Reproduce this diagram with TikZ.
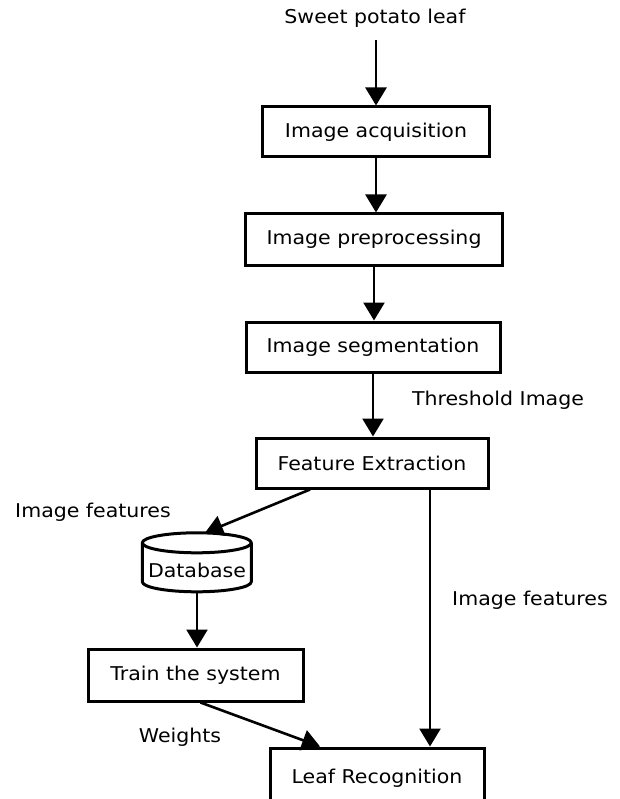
\documentclass[tikz,border=0pt]{standalone}
\usepackage{fontspec}
\setmainfont[FakeStretch=1.08]{DejaVu Sans}
\usetikzlibrary{arrows.meta}
\begin{document}
\begin{tikzpicture}[x=1pt,y=-1pt,
  box/.style={draw,line width=3pt,rectangle,inner sep=0pt,font=\fontsize{19}{21}\selectfont},
  lbl/.style={inner sep=0pt,font=\fontsize{19}{21}\selectfont},
  arr/.style={line width=2.6pt,-{Triangle[width=21pt,length=18pt]}}]
\useasboundingbox (0,0) rectangle (619,799);
\clip (0,0) rectangle (619,799);
\node[lbl] (src) at (375,18) {Sweet potato leaf};
\coordinate (srcend) at (376,40);
\node[box,minimum width=227pt,minimum height=50pt] (acq) at (376,132) {Image acquisition};
\node[box,minimum width=257pt,minimum height=51pt] (pre) at (374,239.5) {Image preprocessing};
\node[box,minimum width=254pt,minimum height=50pt] (seg) at (373,347) {Image segmentation};
\node[box,minimum width=232pt,minimum height=50pt] (fe) at (372,463) {Feature Extraction};
\node[lbl] (thr) at (498,400) {Threshold Image};
\node[lbl] (if1) at (93,512) {Image features};
\node[lbl] (if2) at (530,600) {Image features};
\node[lbl] (wt) at (180,737) {Weights};
\node[inner sep=0pt,minimum width=109pt,minimum height=59pt] (db) at (197,562.5) {};
\node[lbl] (dbt) at (197,570) {Database};
\draw[line width=3pt,line join=round] (db.north west) ++(0,10)
  arc[start angle=180,end angle=0,x radius=54.5pt,y radius=10pt]
  -- ++(0,39)
  arc[start angle=0,end angle=-180,x radius=54.5pt,y radius=10pt]
  -- cycle;
\draw[line width=3pt] (db.north west) ++(0,10)
  arc[start angle=180,end angle=360,x radius=54.5pt,y radius=10pt];
\node[box,minimum width=215pt,minimum height=52pt] (tr) at (195.5,675) {Train the system};
\node[box,minimum width=214pt,minimum height=60pt] (lr) at (377,778) {Leaf Recognition};
\draw[arr] (srcend) -- (acq.north);
\draw[arr] (acq.south) -- (acq.south |- pre.north);
\draw[arr] (pre.south) -- (pre.south |- seg.north);
\draw[arr] (seg.south) -- (seg.south |- fe.north);
\coordinate (fel) at ([xshift=-62pt]fe.south);
\coordinate (fer) at ([xshift=58pt]fe.south);
\draw[arr] (fel) -- ([xshift=8pt]db.north);
\draw[arr] (fer) -- (fer |- lr.north);
\draw[arr] (db.south) -- (db.south |- tr.north);
\draw[arr] ([xshift=5pt]tr.south) -- ([xshift=-57pt]lr.north);
\end{tikzpicture}
\end{document}
